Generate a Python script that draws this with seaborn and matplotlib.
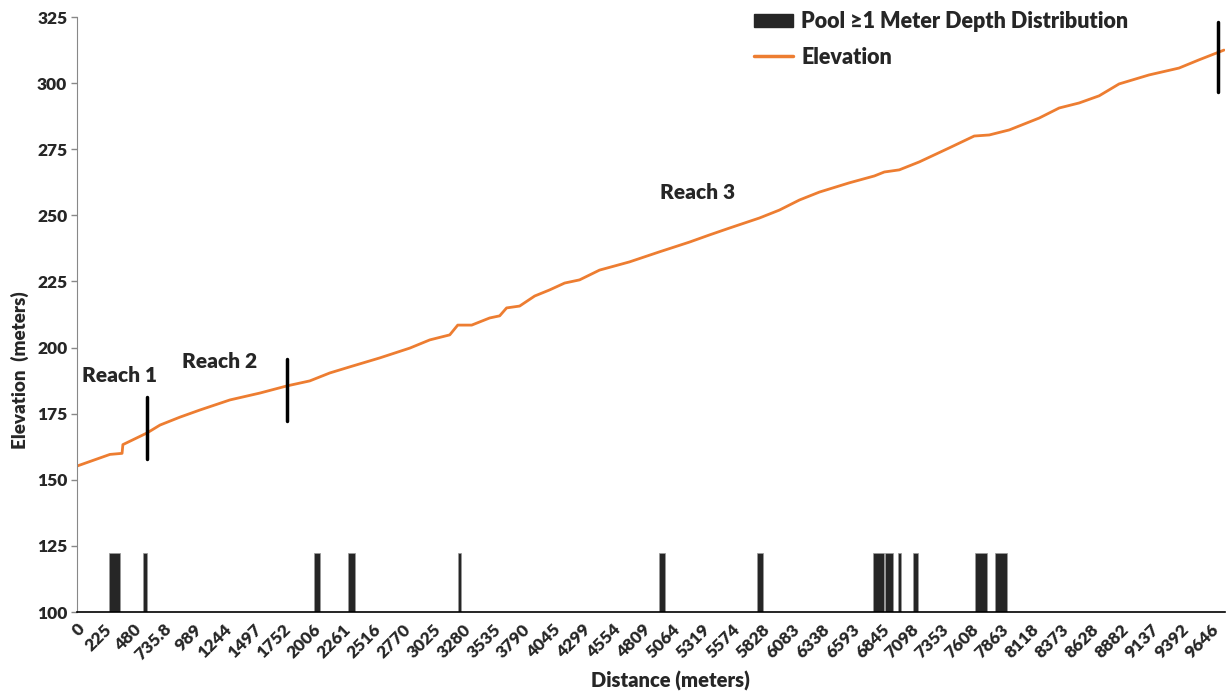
import matplotlib
matplotlib.use("Agg")
import matplotlib.pyplot as plt
import seaborn as sns
import pandas as pd
from matplotlib.patches import Patch
from matplotlib.lines import Line2D

# elevation profile (distance in m, elevation in m)
dist_m = [0, 280, 383, 390, 595, 706, 876, 1046, 1301, 1556, 1786, 1981, 2151,
          2321, 2577, 2832, 3002, 3172, 3240, 3359, 3512, 3597, 3656, 3767, 3895,
          4022, 4150, 4277, 4447, 4702, 4957, 5213, 5383, 5553, 5808, 5978, 6148,
          6318, 6573, 6786, 6871, 6998, 7168, 7423, 7636, 7764, 7934, 8189, 8359,
          8529, 8699, 8869, 9124, 9379, 9549, 9762]
elev_m = [155.2, 159.6, 160.0, 163.3, 167.7, 170.7, 173.7, 176.4, 180.2, 182.8,
          185.5, 187.4, 190.4, 192.7, 196.1, 199.8, 202.9, 204.8, 208.5, 208.5,
          211.2, 212.0, 215.0, 215.7, 219.5, 221.8, 224.4, 225.6, 229.3, 232.4,
          236.2, 239.9, 242.6, 245.2, 249.0, 252.0, 255.8, 258.8, 262.3, 264.9,
          266.4, 267.2, 270.2, 275.5, 280.0, 280.4, 282.3, 286.8, 290.6, 292.5,
          295.2, 299.7, 303.1, 305.7, 308.8, 312.5]

# pools >= 1 m deep: start and end distance
pool_start = [272, 561, 2015, 2304, 3240, 4949, 5790, 6777, 6879, 6990, 7117, 7645, 7815]
pool_end = [366, 595, 2066, 2364, 3265, 5000, 5842, 6870, 6947, 7015, 7160, 7747, 7917]
pool_level = 122.5

# reach boundary markers (distance, low, high) and labels
reach_x = [595, 1790, 9712]
reach_lo = [158.0, 172.2, 296.7]
reach_hi = [181.3, 195.7, 323.1]
reach_labels = ["Reach 1", "Reach 2", "Reach 3"]
reach_label_x = [357, 1216, 5281]
reach_label_y = [189.3, 194.9, 258.8]

tick_labels = ["0", "225", "480", "735.8", "989", "1244", "1497", "1752", "2006",
               "2261", "2516", "2770", "3025", "3280", "3535", "3790", "4045",
               "4299", "4554", "4809", "5064", "5319", "5574", "5828", "6083",
               "6338", "6593", "6845", "7098", "7353", "7608", "7863", "8118",
               "8373", "8628", "8882", "9137", "9392", "9646"]

sns.set_style("white")
plt.rcParams['font.family'] = ['Lato', 'DejaVu Sans']
plt.rcParams['font.weight'] = 'heavy'

orange = "#ED7D31"
dark = "#262626"
W = "heavy"

fig = plt.figure(figsize=(12.29, 6.95), dpi=100)
ax = fig.add_axes([0.0627, 0.1194, 0.934, 0.8561])

df = pd.DataFrame({"Distance": dist_m, "Elevation": elev_m})

widths = [e - s for s, e in zip(pool_start, pool_end)]
ax.bar(pool_start, [pool_level - 100] * len(pool_start), width=widths,
       bottom=100, align="edge", color=dark, edgecolor="#9a9a9a", linewidth=0.5)

sns.lineplot(data=df, x="Distance", y="Elevation", ax=ax, color=orange,
             linewidth=2.0, estimator=None, sort=False)

for x, lo, hi in zip(reach_x, reach_lo, reach_hi):
    ax.plot([x, x], [lo, hi], color="black", linewidth=2.5)

for lab, x, y in zip(reach_labels, reach_label_x, reach_label_y):
    ax.text(x, y, lab, ha="center", va="center", fontsize=15, fontweight=W)

ax.set_xlim(0, 9770)
ax.set_ylim(100, 325)
ax.set_yticks(range(100, 326, 25))
ax.set_xticks([float(t) for t in tick_labels])
ax.set_xticklabels(tick_labels, rotation=45, ha="right", rotation_mode="anchor",
                   fontsize=12.5, fontweight=W)
for lab in ax.get_yticklabels():
    lab.set_fontsize(12.5)
    lab.set_fontweight(W)
ax.tick_params(axis="y", left=True, length=4, width=1, color="#888888", pad=3)
ax.tick_params(axis="x", bottom=False, pad=3)

ax.set_xlabel("Distance (meters)", fontsize=14.5, fontweight=W)
ax.set_ylabel("Elevation  (meters)", fontsize=13.5, fontweight=W)
ax.xaxis.set_label_coords(0.517, -0.099)
ax.yaxis.set_label_coords(-0.042, 0.407)

sns.despine(ax=ax)
ax.spines["left"].set_color("#888888")
ax.spines["bottom"].set_color("black")
ax.spines["bottom"].set_linewidth(1.2)

handles = [Patch(facecolor=dark, edgecolor=dark),
           Line2D([0], [0], color=orange, linewidth=2.5)]
ax.legend(handles, ["Pool \u22651 Meter Depth Distribution", "Elevation"],
          loc="upper left", bbox_to_anchor=(0.59, 1.01), frameon=False,
          borderaxespad=0, borderpad=0,
          prop={"size": 15.5, "weight": W}, handlelength=1.8,
          handleheight=0.55, handletextpad=0.37, labelspacing=0.67)

fig.savefig("out.png", dpi=100)
